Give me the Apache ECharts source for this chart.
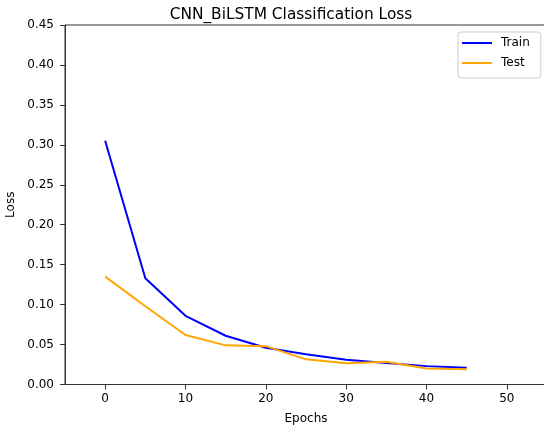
<!DOCTYPE html>
<html><head><meta charset="utf-8">
<script src="https://cdn.jsdelivr.net/npm/echarts@6/dist/echarts.min.js"></script>
<style>html,body{margin:0;padding:0;background:#fff}#c{width:544px;height:435px}</style>
</head><body><div id="c"></div>
<script>
const epochs = [0, 5, 10, 15, 20, 25, 30, 35, 40, 45];
const trainLoss = [0.305, 0.133, 0.086, 0.061, 0.046, 0.038, 0.031, 0.027, 0.023, 0.021];
const testLoss = [0.135, 0.098, 0.062, 0.049, 0.048, 0.0315, 0.0265, 0.0285, 0.020, 0.019];
const xTicks = [0, 10, 20, 30, 40, 50];

const font = 'DejaVu Sans';
const chart = echarts.init(document.getElementById('c'), null, {renderer: 'canvas'});
chart.setOption({
  animation: false,
  backgroundColor: '#fff',
  textStyle: {fontFamily: font},
  title: {
    text: 'CNN_BiLSTM Classification Loss',
    left: 286, top: 2, textAlign: 'center',
    textStyle: {fontFamily: font, fontSize: 15.4, fontWeight: 'normal', color: '#000'}
  },
  grid: {left: 65, top: 25, bottom: 50.5, width: 482, outerBoundsMode: 'none', show: true, borderColor: '#333', borderWidth: 1, containLabel: false},
  legend: {
    orient: 'vertical', left: 458, top: 32,
    data: ['Train', 'Test'],
    icon: 'rect', itemWidth: 30, itemHeight: 2, itemGap: 6,
    borderColor: '#ccc', borderWidth: 1, borderRadius: 3,
    padding: [4, 11, 8, 4],
    textStyle: {fontFamily: font, fontSize: 12, color: '#000', lineHeight: 14, padding: [0, 0, 0, 4]}
  },
  xAxis: {
    type: 'value', min: -5, max: 55,
    name: 'Epochs', nameLocation: 'middle', nameGap: 28,
    nameTextStyle: {fontFamily: font, fontSize: 12, color: '#000'},
    axisLine: {show: true, onZero: false, lineStyle: {color: '#333', width: 1}},
    axisTick: {show: true, length: 5, customValues: xTicks, lineStyle: {color: '#333'}},
    axisLabel: {customValues: xTicks, fontFamily: font, fontSize: 12, color: '#000', margin: 8},
    splitLine: {show: false}
  },
  yAxis: {
    type: 'value', min: 0, max: 0.45, interval: 0.05,
    name: 'Loss', nameLocation: 'middle', nameGap: 44, nameRotate: 90,
    nameTextStyle: {fontFamily: font, fontSize: 12, color: '#000'},
    axisLine: {show: true, onZero: false, lineStyle: {color: '#333', width: 1}},
    axisTick: {show: true, length: 5, lineStyle: {color: '#333'}},
    axisLabel: {fontFamily: font, fontSize: 12, color: '#000', margin: 11, formatter: v => v.toFixed(2)},
    splitLine: {show: false}
  },
  series: [
    {name: 'Train', type: 'line', data: epochs.map((e, i) => [e, trainLoss[i]]), showSymbol: false, symbol: 'none',
     lineStyle: {color: '#0000ff', width: 2}, itemStyle: {color: '#0000ff'}},
    {name: 'Test', type: 'line', data: epochs.map((e, i) => [e, testLoss[i]]), showSymbol: false, symbol: 'none',
     lineStyle: {color: '#ffa500', width: 2}, itemStyle: {color: '#ffa500'}}
  ]
});
</script></body></html>
